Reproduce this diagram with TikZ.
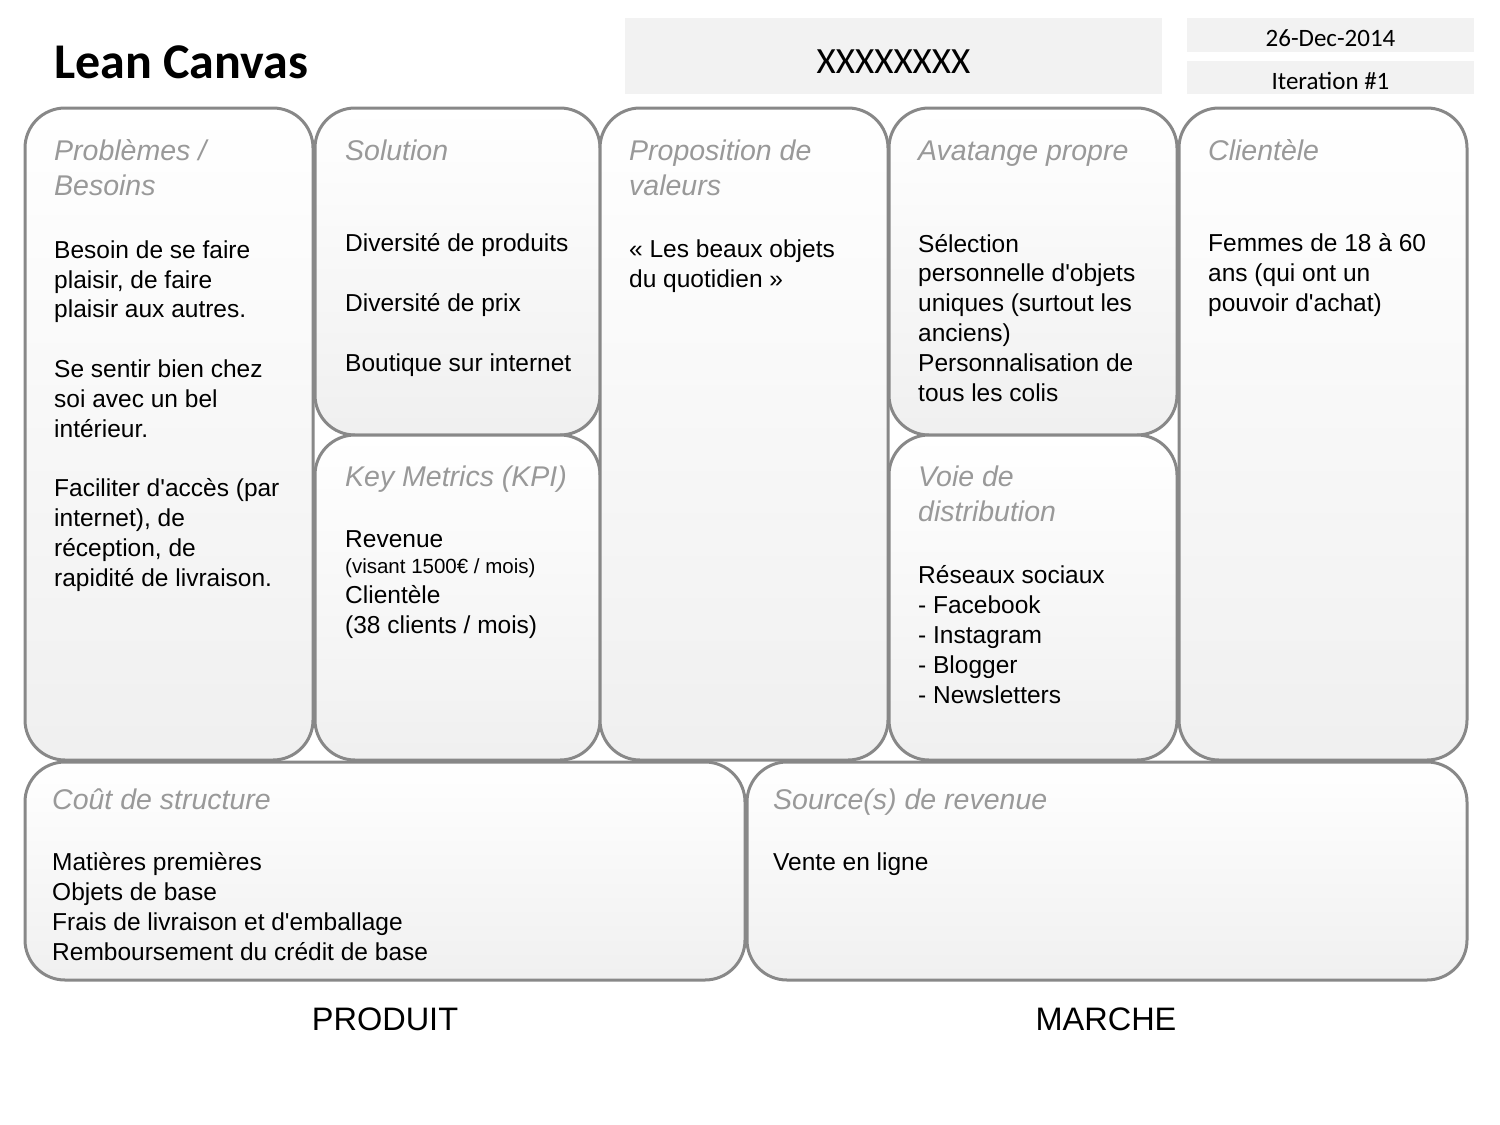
\documentclass[tikz,border=0pt]{standalone}
\usepackage{fontspec}
\setmainfont{Liberation Sans}
\newfontfamily\calfont{Carlito}
\newcommand\ap{\textquotesingle}
\definecolor{bordergray}{HTML}{888888}
\definecolor{headgray}{HTML}{999999}
\definecolor{bandgray}{HTML}{F2F2F2}
\begin{document}
\begin{tikzpicture}[x=1pt,y=-1pt,
  panel/.style={draw=bordergray, line width=3pt, rounded corners=40pt, top color=white, bottom color=black!6},
  band/.style={fill=bandgray, draw=none},
  heading/.style={anchor=base west, inner sep=0pt, align=left, text=headgray, font=\itshape\fontsize{28.5}{35}\selectfont},
  body/.style={anchor=base west, inner sep=0pt, align=left, font=\fontsize{24.5}{29.8}\selectfont},
  small/.style={anchor=base west, inner sep=0pt, font=\fontsize{20.5}{24}\selectfont},
  footer/.style={anchor=base, inner sep=0pt, font=\fontsize{32.5}{36}\selectfont}]
\useasboundingbox (0,0) rectangle (1500,1125);
\fill[white] (0,0) rectangle (1500,1125);

% header bands
\fill[band] (625,18) rectangle (1162,94);
\fill[band] (1187,18) rectangle (1474,52);
\fill[band] (1187,61) rectangle (1474,94);
\node[anchor=base west, inner sep=0pt, font=\calfont\bfseries\fontsize{50}{54}\selectfont] (title) at (54,78) {Lean Canvas};
\node[anchor=base, inner sep=0pt, font=\calfont\fontsize{37}{40}\selectfont] (name) at (893.5,73) {XXXXXXXX};
\node[anchor=base, inner sep=0pt, font=\calfont\fontsize{25}{28}\selectfont] (date) at (1330.5,46) {26-Dec-2014};
\node[anchor=base, inner sep=0pt, font=\calfont\fontsize{25}{28}\selectfont] (iter) at (1330.5,89) {Iteration \#1};

% panels
\draw[panel] (25,108) rectangle (313,760);
\draw[panel] (315,108) rectangle (600,435);
\draw[panel] (315,435) rectangle (600,760);
\draw[panel] (600,108) rectangle (888,760);
\draw[panel] (889,108) rectangle (1177,435);
\draw[panel] (889,435) rectangle (1177,760);
\draw[panel] (1179,108) rectangle (1467,760);
\draw[panel] (25,762) rectangle (745,980);
\draw[panel] (747,762) rectangle (1467,980);

% headings (anchor = baseline of the last line)
\node[heading] (hprob) at (54,195) {Problèmes /\\Besoins};
\node[heading] (hsol) at (345,160) {Solution};
\node[heading] (hprop) at (629,195) {Proposition de\\valeurs};
\node[heading] (hav) at (918,160) {Avatange propre};
\node[heading] (hcli) at (1208,160) {Clientèle};
\node[heading] (hkpi) at (345,486) {Key Metrics (KPI)};
\node[heading] (hvoie) at (918,521) {Voie de\\distribution};
\node[heading] (hcout) at (52,809) {Coût de structure};
\node[heading] (hsrc) at (773,809) {Source(s) de revenue};

% bodies (anchor = baseline of the last line)
\node[body] (bprob) at (54,586) {Besoin de se faire\\plaisir, de faire\\plaisir aux autres.\\[29.8pt]Se sentir bien chez\\soi avec un bel\\intérieur.\\[29.8pt]Faciliter d\ap accès (par\\internet), de\\réception, de\\rapidité de livraison.};
\node[body] (bsol) at (345,371) {Diversité de produits\\[29.8pt]Diversité de prix\\[29.8pt]Boutique sur internet};
\node[body] (bprop) at (629,287) {« Les beaux objets\\du quotidien »};
\node[body] (bav) at (918,401) {Sélection\\personnelle d\ap objets\\uniques (surtout les\\anciens)\\Personnalisation de\\tous les colis};
\node[body] (bcli) at (1208,311) {Femmes de 18 à 60\\ans (qui ont un\\pouvoir d\ap achat)};
\node[body] (bkpi1) at (345,547) {Revenue};
\node[small] (bkpi2) at (345,573) {(visant 1500€ / mois)};
\node[body] (bkpi3) at (345,633) {Clientèle\\(38 clients / mois)};
\node[body] (bvoie) at (918,703) {Réseaux sociaux\\- Facebook\\- Instagram\\- Blogger\\- Newsletters};
\node[body] (bcout) at (52,960) {Matières premières\\Objets de base\\Frais de livraison et d\ap emballage\\Remboursement du crédit de base};
\node[body] (bsrc) at (773,870) {Vente en ligne};

% footers
\node[footer] (prod) at (385,1030) {PRODUIT};
\node[footer] (marc) at (1106,1030) {MARCHE};
\end{tikzpicture}
\end{document}
